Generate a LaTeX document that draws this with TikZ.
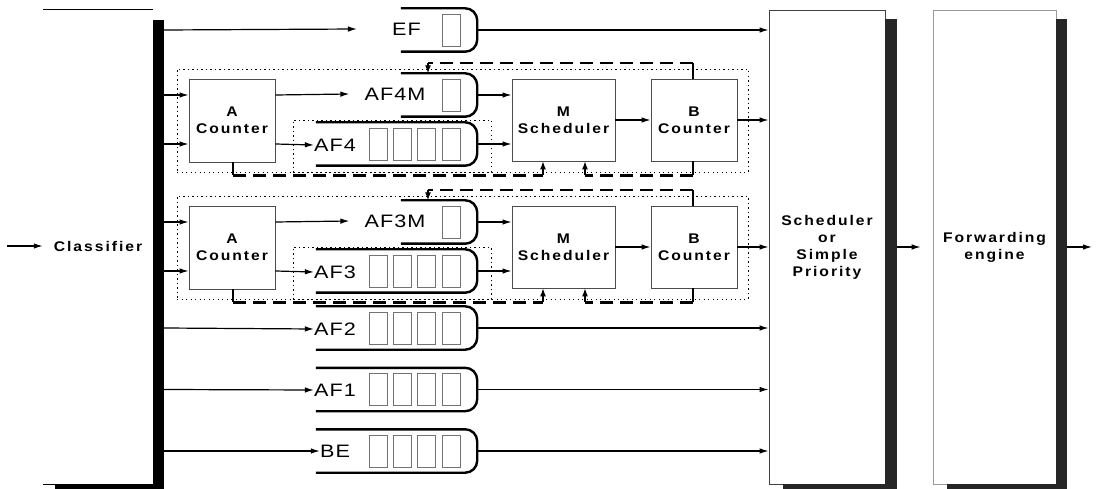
\documentclass[tikz,border=0pt]{standalone}
\usepackage{fontspec}
\setmainfont{Liberation Sans}
\newfontfamily\boxfont[FakeStretch=1.12, LetterSpace=14]{Liberation Sans Bold}
\newfontfamily\qfont[FakeStretch=1.2, LetterSpace=6]{Liberation Sans}
\usetikzlibrary{arrows.meta}

\tikzset{
  blk/.style={draw=black!70, line width=0.8pt, inner sep=0pt, align=center,
    font=\boxfont\fontsize{14}{17}\selectfont},
  cell/.style={draw=black!55, line width=0.6pt, minimum width=18pt, minimum height=32pt, inner sep=0pt},
  qarea/.style={draw=none, inner sep=0pt},
  qline/.style={line width=2.4pt, rounded corners=12pt},
  qlab/.style={font=\qfont\fontsize{18}{20}\selectfont, inner sep=0pt},
  conn/.style={line width=1.2pt, -{Latex[length=9pt,width=5.5pt]}},
  fbup/.style={line width=1.2pt, -{Latex[length=8pt,width=6pt]}},
  plainl/.style={line width=1.2pt},
  dotbox/.style={draw=black, line width=0.8pt, dash pattern=on 1.2pt off 3.3pt, inner sep=0pt},
  fb/.style={line width=2.2pt, dash pattern=on 13pt off 7pt},
  shadowfill/.style={fill=black!85, draw=none, inner sep=0pt},
}

\newcommand\mkqueue[3]{% name, left x, center y
  \pgfmathsetmacro\qw{477-#2}
  \pgfmathsetmacro\qx{(477+#2)/2}
  \node[qarea, minimum width=\qw pt, minimum height=43pt] (#1) at (\qx,#3) {};
  \draw[qline] (#1.north west) -- (#1.north east) -- (#1.south east) -- (#1.south west);
}
\newcommand\cellsfour[2]{%
  \foreach \cx [count=\ci] in {378,402,426,451} {\node[cell] (#1c\ci) at (\cx,#2) {};}%
}
\newcommand\cellone[2]{\node[cell] (#1c1) at (451,#2) {};}

\newcommand\afgroup[1]{%
  \node[dotbox, minimum width=571pt, minimum height=103pt] (g#1out) at (462.5,120.5) {};
  \node[dotbox, minimum width=198pt, minimum height=52pt] (g#1in) at (392,146) {};
  \node[blk, minimum width=86pt, minimum height=83pt] (a#1) at (232,120.5) {A\\Counter};
  \node[blk, minimum width=103pt, minimum height=82pt] (m#1) at (563.5,120) {M\\Scheduler};
  \node[blk, minimum width=86pt, minimum height=82pt] (b#1) at (694,120) {B\\Counter};
  \mkqueue{af#1mq}{401}{95}
  \node[qlab] (af#1mlab) at (395,94) {AF#1M};
  \cellone{af#1mq}{95}
  \mkqueue{af#1q}{316}{144}
  \node[qlab] (af#1lab) at (335,145) {AF#1};
  \cellsfour{af#1q}{144}
  % inputs
  \draw[conn] (clsbar.east |- af#1mq) -- (a#1.west |- af#1mq);
  \draw[conn] (clsbar.east |- af#1q) -- (a#1.west |- af#1q);
  \draw[conn] (a#1.east |- af#1mq) -- ([xshift=-15pt]af#1mlab.west);
  \draw[conn] (a#1.east |- af#1q) -- (af#1lab.west);
  \draw[conn] (af#1mq.east) -- (m#1.west |- af#1mq);
  \draw[conn] (af#1q.east) -- (m#1.west |- af#1q);
  \draw[conn] (m#1.east) -- (b#1.west);
  \draw[conn] (b#1.east) -- (sch.west |- b#1.east);
  % feedback top
  \coordinate (t#1r) at (693,63);
  \coordinate (t#1l) at (428,63);
  \draw[plainl] (b#1.north -| t#1r) -- (t#1r);
  \draw[fb] (t#1r) -- (t#1l);
  \draw[fbup] (t#1l) -- (af#1mq.north -| t#1l);
  % feedback bottom
  \coordinate (u#1a) at (233,175.5);
  \coordinate (u#1p) at (543,175.5);
  \coordinate (u#1q) at (585,175.5);
  \coordinate (u#1b) at (693,175.5);
  \draw[plainl] (a#1.south -| u#1a) -- (u#1a);
  \draw[fb] (u#1a) -- (u#1p);
  \draw[fbup] (u#1p) -- (m#1.south -| u#1p);
  \draw[plainl] (b#1.south -| u#1b) -- (u#1b);
  \draw[fb] (u#1b) -- (u#1q);
  \draw[fbup] (u#1q) -- (m#1.south -| u#1q);
}

\begin{document}
\begin{tikzpicture}[x=1pt,y=-1pt]
\useasboundingbox (0,0) rectangle (1096,489);

% Classifier
\node[inner sep=0pt, minimum width=110pt, minimum height=474pt] (cls) at (98,247) {};
\node[font=\boxfont\fontsize{14}{17}\selectfont, inner sep=0pt] (clslab) at (98,246) {Classifier};
\draw[line width=0.8pt] (cls.north west) -- (cls.north east);
\draw[line width=0.8pt] (cls.south west) -- (cls.south east);
\node[shadowfill, fill=black, minimum width=11pt, minimum height=469pt] (clsbar) at (158.5,254.5) {};
\node[shadowfill, fill=black, minimum width=109pt, minimum height=4pt] (clsbot) at (109.5,487) {};
\coordinate (inp) at (7,246);
\draw[conn] (inp) -- (cls.west |- inp);

% Scheduler
\node[blk, draw=black!75, minimum width=116pt, minimum height=474pt] (sch) at (827,247)
  {Scheduler\\or\\Simple\\Priority};
\node[shadowfill, minimum width=12pt, minimum height=470pt] (schsh) at (891,254) {};
\node[shadowfill, minimum width=114pt, minimum height=5pt] (schbot) at (840,486.5) {};

% Forwarding engine
\node[blk, draw=black!40, line width=0.6pt, minimum width=123pt, minimum height=474pt] (fwd) at (994.5,247)
  {Forwarding\\engine};
\node[shadowfill, minimum width=11pt, minimum height=470pt] (fwdsh) at (1061.5,254) {};
\node[shadowfill, minimum width=120pt, minimum height=5pt] (fwdbot) at (1007,486.5) {};
\draw[conn] (schsh.east |- sch.east) -- ([xshift=-12pt]fwd.west);
\coordinate (outp) at (1092,247);
\draw[conn] (fwdsh.east |- outp) -- (outp);

% EF
\mkqueue{efq}{401}{30}
\node[qlab] (eflab) at (406.5,29) {EF};
\cellone{efq}{30}
\draw[conn] (clsbar.east |- efq) -- ([xshift=-35pt]eflab.west);
\draw[conn] (efq.east) -- (sch.west |- efq);

% AF4 group
\afgroup{4}
% AF3 group
\begin{scope}[shift={(0,127)}]
\afgroup{3}
\end{scope}

% AF2, AF1, BE
\mkqueue{af2q}{316}{328}
\node[qlab] (af2lab) at (335,329) {AF2};
\cellsfour{af2q}{328}
\mkqueue{af1q}{316}{389.5}
\node[qlab] (af1lab) at (335,390) {AF1};
\cellsfour{af1q}{389.5}
\mkqueue{beq}{316}{451}
\node[qlab] (belab) at (335,451) {BE};
\cellsfour{beq}{451}
\foreach \q in {af2,af1,be} {
  \draw[conn] (clsbar.east |- \q q) -- (\q lab.west);
  \draw[conn] (\q q.east) -- (sch.west |- \q q);
}
\end{tikzpicture}
\end{document}
